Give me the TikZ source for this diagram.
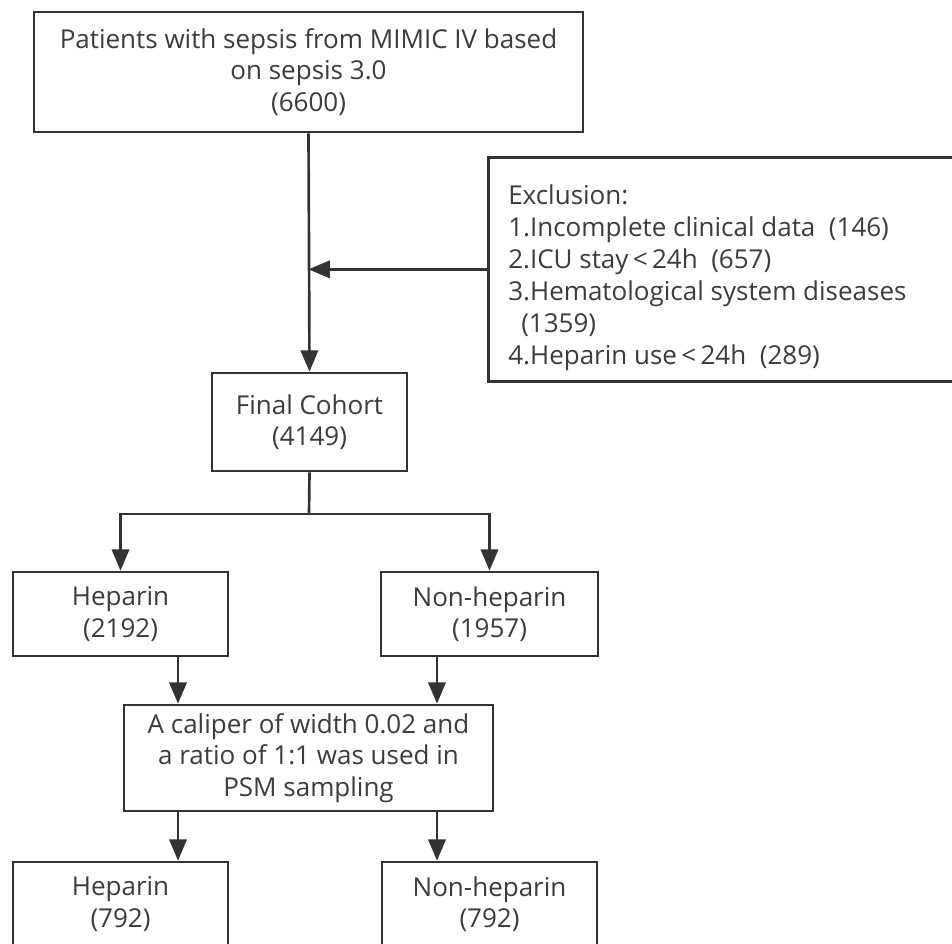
\documentclass[tikz,border=0pt]{standalone}
\usepackage{fontspec}
\setmainfont{Open Sans}
\usetikzlibrary{arrows.meta,calc}
\definecolor{ln}{HTML}{333333}
\definecolor{tx}{HTML}{3C3C3C}
\tikzset{
  box/.style={draw=ln, line width=2pt, inner sep=0pt, align=center, text=tx,
    font=\fontsize{19.5pt}{23.5pt}\selectfont},
  txt/.style={inner sep=0pt, align=left, text=tx, font=\fontsize{19.5pt}{24pt}\selectfont},
  arr/.style={draw=ln, line width=2pt, -{Triangle[length=16pt,width=13pt]}},
  lnk/.style={draw=ln, line width=2pt}
}
\begin{document}
\begin{tikzpicture}[x=0.75pt,y=-0.75pt]
\clip (0,0) rectangle (952,943);
\fill[white] (0,0) rectangle (952,943);
\node[box, minimum width=411.75pt, minimum height=90pt] (top) at (308.5,72)
  {Patients with sepsis from MIMIC IV based\\on sepsis 3.0\\(6600)};
\node[box, minimum width=355pt, minimum height=168pt, anchor=north west] (excl) at (487,156) {};
\node[txt, anchor=north west] (excltxt) at (508,184)
  {Exclusion:\\1.Incomplete clinical data~~(146)\\2.ICU stay\,<\,24h~~(657)\\3.Hematological system diseases\\\hspace{0.5em}(1359)\\4.Heparin use\,<\,24h~~(289)};
\node[box, minimum width=146.25pt, minimum height=73.5pt] (final) at (309.5,422)
  {Final Cohort\\(4149)};
\node[box, minimum width=161.25pt, minimum height=63pt] (hepA) at (120.5,614)
  {Heparin\\(2192)};
\node[box, minimum width=162.75pt, minimum height=63pt] (nonA) at (489.5,614)
  {Non-heparin\\(1957)};
\node[box, minimum width=276.75pt, minimum height=79.5pt] (psm) at (308.5,758)
  {A caliper of width 0.02 and\\a ratio of 1:1 was used in\\PSM sampling};
\node[box, minimum width=161.25pt, minimum height=63pt] (hepB) at (120.5,904)
  {Heparin\\(792)};
\node[box, minimum width=161.25pt, minimum height=63pt] (nonB) at (489.5,904)
  {Non-heparin\\(792)};
\coordinate (j) at (top.south |- excl.west);
\coordinate (br) at (309,514);
\coordinate (xL) at (178,0);
\coordinate (xR) at (437,0);
\draw[arr] (top.south) -- (final.north);
\draw[arr] (excl.west) -- (j);
\draw[lnk] (final.south) -- (br);
\draw[arr] (br) -| (hepA.north);
\draw[arr] (br) -| (nonA.north);
\draw[arr] (hepA.south -| xL) -- (psm.north -| xL);
\draw[arr] (nonA.south -| xR) -- (psm.north -| xR);
\draw[arr] (psm.south -| xL) -- (hepB.north -| xL);
\draw[arr] (psm.south -| xR) -- (nonB.north -| xR);
\end{tikzpicture}
\end{document}
